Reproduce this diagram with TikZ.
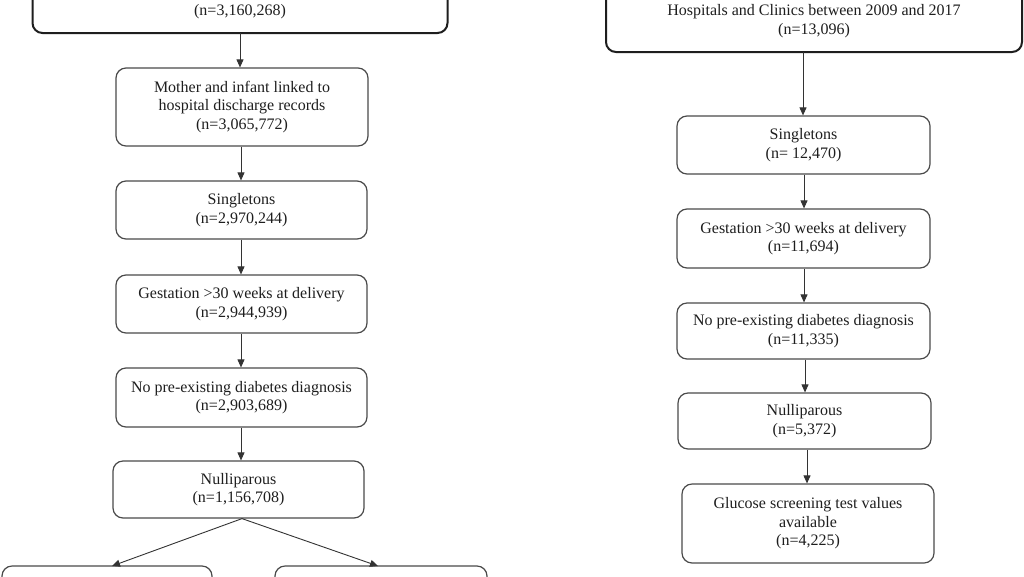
\documentclass[tikz,border=0pt]{standalone}
\usepackage{fontspec}
\setmainfont{Liberation Serif}
\usetikzlibrary{arrows.meta}
\definecolor{txt}{HTML}{1E1E1E}
\definecolor{brd}{HTML}{4A4A4A}
\definecolor{topbrd}{HTML}{1E1E1E}
\definecolor{arrc}{HTML}{333333}
\tikzset{
  box/.style={draw=brd, line width=1.2pt, rounded corners=10pt, fill=white, align=center,
    inner sep=0pt, text=txt, font=\fontsize{16}{18.5}\selectfont},
  topbox/.style={box, draw=topbrd, line width=2pt},
  lbl/.style={text=txt, font=\fontsize{16}{18.5}\selectfont, inner sep=0pt, align=center},
  arr/.style={draw=arrc, line width=0.9pt, -{Triangle[length=8pt,width=7pt]}}
}
\begin{document}
\begin{tikzpicture}[x=1pt,y=-1pt]
\useasboundingbox (0,0) rectangle (1024,576);
\clip (0,0) rectangle (1024,576);
\fill[white] (0,0) rectangle (1024,576);
% left column
\node[topbox, minimum width=415pt, minimum height=93pt] (L0) at (240,-13.5) {};
\node[lbl] (L0t) at (240,12) {(n=3,160,268)};
\node[box, minimum width=252pt, minimum height=78pt] (L1) at (242,107)
  {Mother and infant linked to\\hospital discharge records\\(n=3,065,772)};
\node[box, minimum width=251pt, minimum height=58pt] (L2) at (241.5,210)
  {Singletons\\(n=2,970,244)};
\node[box, minimum width=251pt, minimum height=58pt] (L3) at (241.5,304)
  {Gestation >30 weeks at delivery\\(n=2,944,939)};
\node[box, minimum width=251pt, minimum height=59pt] (L4) at (241.5,397.5)
  {No pre-existing diabetes diagnosis\\(n=2,903,689)};
\node[box, minimum width=251pt, minimum height=57pt] (L5) at (238.5,489.5)
  {Nulliparous\\(n=1,156,708)};
\node[box, minimum width=210pt, minimum height=60pt] (L6) at (107,596) {};
\node[box, minimum width=212pt, minimum height=60pt] (L7) at (381,596) {};
\draw[arr] (240,33) -- (L1.north -| 240,0);
\draw[arr] (L1.south -| 241,0) -- (L2.north -| 241,0);
\draw[arr] (L2.south -| 241,0) -- (L3.north -| 241,0);
\draw[arr] (L3.south -| 241,0) -- (L4.north -| 241,0);
\draw[arr] (L4.south -| 241,0) -- (L5.north -| 241,0);
\draw[arr] (L5.south -| 242,0) -- (112,566);
\draw[arr] (L5.south -| 242,0) -- (378,566);
% right column
\node[topbox, minimum width=416pt, minimum height=102pt] (R0) at (814,1) {};
\node[lbl] (R0t) at (814,21) {Hospitals and Clinics between 2009 and 2017\\(n=13,096)};
\node[box, minimum width=253pt, minimum height=58pt] (R1) at (803.5,145)
  {Singletons\\(n= 12,470)};
\node[box, minimum width=253pt, minimum height=59pt] (R2) at (803.5,238.5)
  {Gestation >30 weeks at delivery\\(n=11,694)};
\node[box, minimum width=253pt, minimum height=56pt] (R3) at (803.5,331)
  {No pre-existing diabetes diagnosis\\(n=11,335)};
\node[box, minimum width=253pt, minimum height=56pt] (R4) at (804.5,421)
  {Nulliparous\\(n=5,372)};
\node[box, minimum width=252pt, minimum height=79pt] (R5) at (808,523.5)
  {Glucose screening test values\\available\\(n=4,225)};
\draw[arr] (803,52) -- (R1.north -| 803,0);
\draw[arr] (R1.south -| 804,0) -- (R2.north -| 804,0);
\draw[arr] (R2.south -| 804,0) -- (R3.north -| 804,0);
\draw[arr] (R3.south -| 805,0) -- (R4.north -| 805,0);
\draw[arr] (R4.south -| 807,0) -- (R5.north -| 807,0);
\end{tikzpicture}
\end{document}
